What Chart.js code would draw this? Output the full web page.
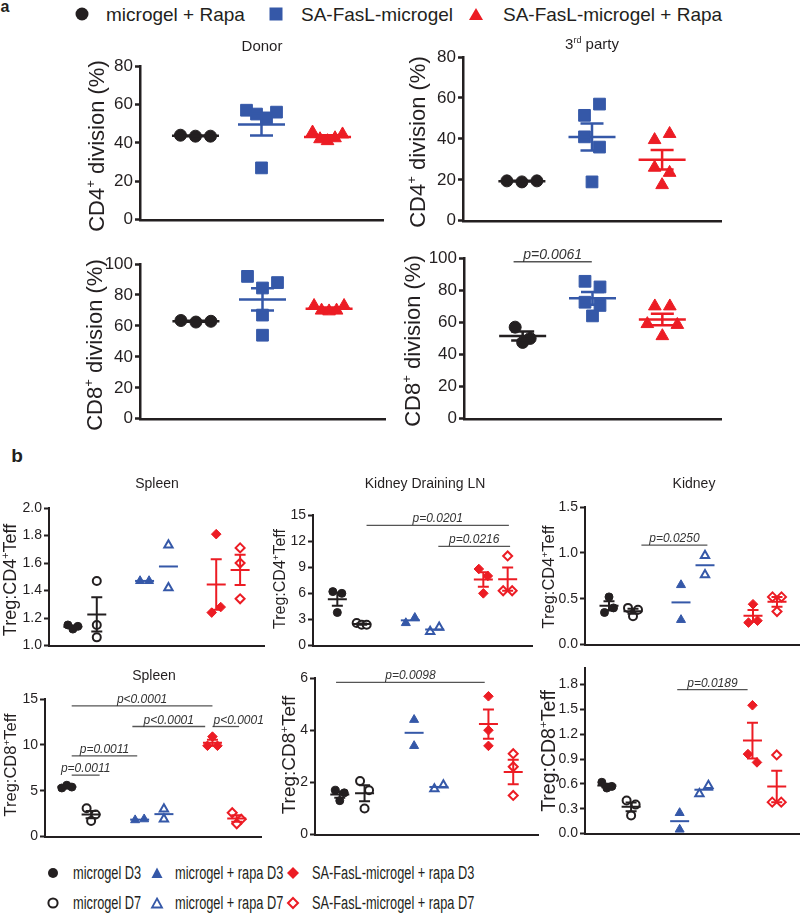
<!DOCTYPE html>
<html>
<head>
<meta charset="utf-8">
<script src="https://cdn.jsdelivr.net/npm/chart.js@4.4.0/dist/chart.umd.min.js"></script>
<style>
  body { margin: 0; background: #fff; }
  #fig { position: relative; width: 800px; height: 915px; overflow: hidden;
         font-family: "Liberation Sans", Arial, Helvetica, sans-serif; color: #231f20; }
  .t  { position: absolute; white-space: nowrap; line-height: 1; transform: translate(-50%, -50%); }
  .yt { position: absolute; white-space: nowrap; line-height: 1; transform: translate(-50%, -50%) rotate(-90deg); }
  .lt { position: absolute; white-space: nowrap; line-height: 1; transform: translateY(-50%); }
  .lb { position: absolute; white-space: nowrap; line-height: 1; font-size: 18px;
        transform: translateY(-50%) scaleX(0.71); transform-origin: 0 50%; }
  .mk { position: absolute; overflow: visible; }
  sup { font-size: 0.6em; vertical-align: 0; position: relative; top: -0.65em; line-height: 0; }
</style>
</head>
<body>
<div id="fig">
  <div class="t" style="left:5px;top:7px;font-size:16px;font-weight:bold">a</div>
  <div class="t" style="left:17px;top:455px;font-size:19px;font-weight:bold">b</div>

  <!-- legend a -->
  <svg class="mk" style="left:75px;top:7px" width="14" height="14"><circle cx="7" cy="7" r="6.5" fill="#231f20"/></svg>
  <div class="lt" style="left:106px;top:14px;font-size:19px">microgel + Rapa</div>
  <svg class="mk" style="left:269px;top:7px" width="14" height="14"><rect x="0.5" y="0.5" width="13" height="13" fill="#3558a8"/></svg>
  <div class="lt" style="left:301px;top:14px;font-size:19px">SA-FasL-microgel</div>
  <svg class="mk" style="left:469px;top:7px" width="14" height="14"><polygon points="7,1 14,13 0,13" fill="#ec1c24"/></svg>
  <div class="lt" style="left:503px;top:14px;font-size:19px">SA-FasL-microgel + Rapa</div>

  <div class="t" style="left:262px;top:45px;font-size:15px">Donor</div>
  <div class="t" style="left:592px;top:43px;font-size:15px">3<sup>rd</sup> party</div>

  <div class="yt" style="left:97px;top:146px;font-size:22px">CD4<sup>+</sup> division (%)</div>
  <div class="yt" style="left:418px;top:142px;font-size:22px">CD4<sup>+</sup> division (%)</div>
  <div class="yt" style="left:95px;top:345px;font-size:22px">CD8<sup>+</sup> division (%)</div>
  <div class="yt" style="left:413px;top:341px;font-size:22px">CD8<sup>+</sup> division (%)</div>

  <div class="t" style="left:157px;top:483px;font-size:14px">Spleen</div>
  <div class="t" style="left:425px;top:483px;font-size:14px">Kidney Draining LN</div>
  <div class="t" style="left:694px;top:483px;font-size:14px">Kidney</div>
  <div class="t" style="left:154px;top:675px;font-size:14px">Spleen</div>

  <div class="yt" style="left:10px;top:580px;font-size:18px">Treg:CD4<sup>+</sup>Teff</div>
  <div class="yt" style="left:280px;top:579px;font-size:16px">Treg:CD4<sup>+</sup>Teff</div>
  <div class="yt" style="left:548px;top:577px;font-size:16.5px">Treg:CD4<sup>+</sup>Teff</div>
  <div class="yt" style="left:10px;top:765px;font-size:16.5px">Treg:CD8<sup>+</sup>Teff</div>
  <div class="yt" style="left:288px;top:755px;font-size:19px">Treg:CD8<sup>+</sup>Teff</div>
  <div class="yt" style="left:549px;top:751px;font-size:19.5px">Treg:CD8<sup>+</sup>Teff</div>

  <!-- legend b -->
  <svg class="mk" style="left:47px;top:867px" width="12" height="12"><circle cx="6" cy="6" r="5" fill="#231f20"/></svg>
  <div class="lb" style="left:73px;top:873px">microgel D3</div>
  <svg class="mk" style="left:151px;top:867px" width="12" height="12"><polygon points="6,0.5 11.5,11 0.5,11" fill="#3558a8"/></svg>
  <div class="lb" style="left:175px;top:873px">microgel + rapa D3</div>
  <svg class="mk" style="left:287px;top:867px" width="12" height="12"><polygon points="6,0 12,6 6,12 0,6" fill="#ec1c24"/></svg>
  <div class="lb" style="left:312px;top:873px">SA-FasL-microgel + rapa D3</div>
  <svg class="mk" style="left:47px;top:897px" width="12" height="12"><circle cx="6" cy="6" r="4.6" fill="none" stroke="#231f20" stroke-width="2"/></svg>
  <div class="lb" style="left:73px;top:903px">microgel D7</div>
  <svg class="mk" style="left:151px;top:897px" width="12" height="12"><polygon points="6,1.5 11,10.5 1,10.5" fill="none" stroke="#3558a8" stroke-width="1.8"/></svg>
  <div class="lb" style="left:175px;top:903px">microgel + rapa D7</div>
  <svg class="mk" style="left:287px;top:897px" width="12" height="12"><polygon points="6,1 11,6 6,11 1,6" fill="none" stroke="#ec1c24" stroke-width="2"/></svg>
  <div class="lb" style="left:312px;top:903px">SA-FasL-microgel + rapa D7</div>
</div>

<script>
const INK = '#231f20', BLUE = '#3558a8', RED = '#ec1c24';
const FONT = '"Liberation Sans", Arial, Helvetica, sans-serif';

// ---- panel a: microgel + Rapa / SA-FasL-microgel / SA-FasL-microgel + Rapa
const groupPosA = [1, 2, 3];
const donorCD4Rapa = [44, 43.5, 43.5];
const donorCD4Fasl = [57, 55, 53, 56, 27];
const donorCD4FaslRapa = [45.5, 42, 41, 42.5, 44.5];
const thirdCD4Rapa = [19.5, 19, 19.5];
const thirdCD4Fasl = [51.5, 57, 41, 36, 19];
const thirdCD4FaslRapa = [39.5, 42.5, 26, 23.5, 17.5];
const donorCD8Rapa = [63.5, 62.5, 63];
const donorCD8Fasl = [92, 84.5, 88, 67, 54];
const donorCD8FaslRapa = [73, 70, 69.5, 70, 73];
const thirdCD8Rapa = [57, 50, 47.5];
const thirdCD8Fasl = [85.5, 82, 72.5, 70.5, 64];
const thirdCD8FaslRapa = [70, 70, 59, 51.5, 58.5];
const thirdCD8Pvals = [[0.87, 1.99, 97.6, 'p=0.0061']];

// ---- panel b: microgel D3 / D7, microgel + rapa D3 / D7, SA-FasL-microgel + rapa D3 / D7
const groupPosB = [1, 2, 4, 5, 7, 8];
const spleenCD4 = [[1.15, 1.12, 1.14], [1.47, 1.15, 1.06], [1.47, 1.47], [1.42, 1.73], [1.24, 1.28, 1.81], [1.34, 1.60, 1.71]];
const dlnCD4 = [[6.2, 6.0, 3.8], [2.6, 2.4, 2.4], [2.6, 3.2], [1.6, 2.1], [8.8, 8.0, 6.0], [10.3, 6.3, 6.3]];
const kidneyCD4 = [[0.52, 0.35, 0.40], [0.40, 0.31, 0.38], [0.65, 0.27], [0.97, 0.76], [0.44, 0.24, 0.26], [0.52, 0.52, 0.36]];
const spleenCD8 = [[5.3, 5.6, 5.4], [3.1, 2.4, 1.7], [1.8, 1.9], [1.9, 3.0], [9.9, 10.9, 9.9], [2.6, 1.9, 1.4]];
const dlnCD8 = [[1.7, 1.6, 1.3], [2.05, 1.7, 1.0], [4.4, 3.4], [1.75, 1.9], [5.3, 4.0, 3.4], [3.1, 2.6, 1.5]];
const kidneyCD8 = [[0.62, 0.55, 0.57], [0.40, 0.35, 0.22], [0.25, 0.05], [0.48, 0.58], [1.55, 0.96, 0.86], [0.95, 0.38, 0.38]];
const dlnCD4Pvals = [[2.2, 8.05, 13.8, 'p=0.0201'], [5.15, 8.1, 11.4, 'p=0.0216']];
const kidneyCD4Pvals = [[2.35, 5.1, 1.085, 'p=0.0250']];
const spleenCD8Pvals = [[1.2, 7, 14.25, 'p<0.0001'], [3.7, 6.7, 12, 'p<0.0001'], [7, 8.1, 12, 'p<0.0001', 'left'],
                        [1.2, 3.9, 8.8, 'p=0.0011'], [1.2, 2.35, 6.7, 'p=0.0011']];
const dlnCD8Pvals = [[0.85, 6.85, 5.83, 'p=0.0098']];
const kidneyCD8Pvals = [[3.9, 6.8, 1.74, 'p=0.0189']];

const styleA = [
  { shape: 'circle', color: INK, r: 6 },
  { shape: 'rect', color: BLUE, r: 8.3 },
  { shape: 'triangle', color: RED, r: 7.3 }
];
const styleB = [
  { shape: 'circle', color: INK, r: 4 },
  { shape: 'circle', color: INK, r: 4, open: true },
  { shape: 'triangle', color: BLUE, r: 5.2 },
  { shape: 'triangle', color: BLUE, r: 4.8, open: true },
  { shape: 'rectRot', color: RED, r: 4.8 },
  { shape: 'rectRot', color: RED, r: 4.5, open: true }
];

const fig = document.getElementById('fig');

// spread points sharing a row horizontally, centred on the group
function swarmPlugin(o) {
  return {
    id: 'swarm',
    afterDatasetsUpdate(chart) {
      const xs = chart.scales.x;
      chart.data.datasets.forEach((ds, di) => {
        const pts = chart.getDatasetMeta(di).data;
        const cx = xs.getPixelForValue(ds.data[0].x);
        const idx = pts.map((p, k) => k).sort((a, b) => pts[a].y - pts[b].y);
        const rows = [];
        idx.forEach(k => {
          const row = rows[rows.length - 1];
          if (row && pts[k].y - pts[row[0]].y <= o.near) row.push(k);
          else rows.push([k]);
        });
        rows.forEach(row => {
          row.sort((a, b) => a - b);
          const n = row.length;
          const step = n > 1 ? Math.min(o.step, o.maxW / (n - 1)) : 0;
          row.forEach((k, j) => { pts[k].x = cx + (j - (n - 1) / 2) * step; });
        });
      });
    }
  };
}

// mean line with SEM whiskers for each group (whiskers only when n >= 3)
function meanSemPlugin(o) {
  return {
    id: 'meanSem',
    afterDatasetsDraw(chart) {
      const { ctx, scales: { x, y } } = chart;
      ctx.save();
      ctx.lineWidth = o.lw;
      chart.data.datasets.forEach(ds => {
        const vals = ds.data.map(p => p.y);
        const n = vals.length;
        const m = vals.reduce((a, b) => a + b, 0) / n;
        const sd = Math.sqrt(vals.reduce((a, b) => a + (b - m) * (b - m), 0) / (n - 1));
        const se = sd / Math.sqrt(n);
        const cx = x.getPixelForValue(ds.data[0].x);
        const ym = y.getPixelForValue(m);
        ctx.strokeStyle = ds.borderColor;
        ctx.beginPath();
        ctx.moveTo(cx - o.half, ym); ctx.lineTo(cx + o.half, ym);
        if (n >= 3 && se > 1e-9) {
          const y1 = y.getPixelForValue(m + se), y2 = y.getPixelForValue(m - se);
          ctx.moveTo(cx, y1); ctx.lineTo(cx, y2);
          ctx.moveTo(cx - o.cap, y1); ctx.lineTo(cx + o.cap, y1);
          ctx.moveTo(cx - o.cap, y2); ctx.lineTo(cx + o.cap, y2);
        }
        ctx.stroke();
      });
      ctx.restore();
    }
  };
}

// significance lines with p-values
function pvalPlugin(list, o) {
  return {
    id: 'pvals',
    afterDraw(chart) {
      const { ctx, scales: { x, y } } = chart;
      ctx.save();
      list.forEach(([a, b, v, label, align]) => {
        const x1 = x.getPixelForValue(a), x2 = x.getPixelForValue(b), py = y.getPixelForValue(v);
        ctx.strokeStyle = '#555'; ctx.lineWidth = o.lw;
        ctx.beginPath(); ctx.moveTo(x1, py); ctx.lineTo(x2, py); ctx.stroke();
        ctx.fillStyle = '#333';
        ctx.font = 'italic ' + o.size + 'px ' + FONT;
        ctx.textBaseline = 'alphabetic';
        if (align === 'left') {
          ctx.textAlign = 'left';
          ctx.fillText(label, x1 + 1, py - 3);
        } else {
          ctx.textAlign = 'center';
          ctx.fillText(label, (x1 + x2) / 2, py - 3);
        }
      });
      ctx.restore();
    }
  };
}

function panel(o) {
  const padT = 14, padR = 10, xH = 6;
  const left = o.l - o.yW, top = o.t - padT;
  const w = Math.round(o.r + padR - left), h = Math.round(o.b + xH - top);
  const cv = document.createElement('canvas');
  cv.width = w; cv.height = h;
  cv.style.cssText = `position:absolute;left:${left}px;top:${top}px;width:${w}px;height:${h}px`;
  fig.insertBefore(cv, fig.firstChild);

  const datasets = o.groups.map((vals, i) => {
    const s = o.styles[i];
    return {
      data: vals.map(v => ({ x: o.pos[i], y: v })),
      pointStyle: s.shape,
      pointRadius: s.r,
      backgroundColor: s.open ? '#fff' : s.color,
      borderColor: s.color,
      borderWidth: s.open ? 2 : 1,
      clip: false
    };
  });

  const plugins = [swarmPlugin(o.swarm), meanSemPlugin(o.mean)];
  if (o.pvals) plugins.push(pvalPlugin(o.pvals, o.pStyle));

  new Chart(cv, {
    type: 'scatter',
    data: { datasets },
    options: {
      responsive: false,
      animation: false,
      events: [],
      layout: { padding: { top: padT, right: padR, left: 0, bottom: 0 } },
      plugins: { legend: { display: false }, tooltip: { enabled: false } },
      scales: {
        x: {
          type: 'linear', min: o.xMin, max: o.xMax,
          ticks: { display: false },
          grid: { display: false },
          border: { color: INK, width: o.axisLW },
          afterFit: s => { s.height = xH; }
        },
        y: {
          min: o.yMin, max: o.yMax,
          ticks: {
            stepSize: o.step, color: INK, padding: 2,
            font: { family: FONT, size: o.tickSize },
            callback: v => (o.dec ? v.toFixed(o.dec) : v)
          },
          grid: { drawOnChartArea: false, drawTicks: true, tickLength: 5, tickWidth: o.axisLW, tickColor: INK },
          border: { color: INK, width: o.axisLW },
          afterFit: s => { s.width = o.yW; },
          afterBuildTicks: s => {
            if (o.tickMax !== undefined) s.ticks = s.ticks.filter(t => t.value <= o.tickMax + 1e-9);
          }
        }
      }
    },
    plugins
  });
}

const baseA = {
  pos: groupPosA, styles: styleA, yW: 48, tickSize: 17, axisLW: 2.5, xMin: 0.16, xMax: 3.84,
  swarm: { near: 13, step: 15, maxW: 30 }, mean: { half: 23.5, cap: 11.5, lw: 2.5 },
  pStyle: { lw: 1.5, size: 14 }
};
const baseB = {
  pos: groupPosB, styles: styleB, yW: 40, tickSize: 14, axisLW: 2, xMin: 0, xMax: 9,
  swarm: { near: 10, step: 9, maxW: 10 }, mean: { half: 9.5, cap: 5.5, lw: 2 },
  pStyle: { lw: 1.3, size: 12 }
};

panel({ ...baseA, l: 140, r: 383, t: 66, b: 226, yMin: 0, yMax: 80, step: 20,
        groups: [donorCD4Rapa, donorCD4Fasl, donorCD4FaslRapa] });
panel({ ...baseA, l: 463, r: 721, t: 57, b: 227, yMin: 0, yMax: 80, step: 20,
        groups: [thirdCD4Rapa, thirdCD4Fasl, thirdCD4FaslRapa] });
panel({ ...baseA, l: 140, r: 385, t: 264, b: 425, yMin: 0, yMax: 100, step: 20,
        groups: [donorCD8Rapa, donorCD8Fasl, donorCD8FaslRapa] });
panel({ ...baseA, l: 464, r: 721, t: 258, b: 425, yMin: 0, yMax: 100, step: 20,
        groups: [thirdCD8Rapa, thirdCD8Fasl, thirdCD8FaslRapa], pvals: thirdCD8Pvals });

panel({ ...baseB, l: 48.5, r: 263, t: 508, b: 650, yMin: 1, yMax: 2, step: 0.2, dec: 1, groups: spleenCD4 });
panel({ ...baseB, l: 313, r: 532, t: 515, b: 650, yMin: 0, yMax: 15, step: 3, groups: dlnCD4, pvals: dlnCD4Pvals });
panel({ ...baseB, l: 585, r: 801, t: 507, b: 649, yMin: 0, yMax: 1.5, step: 0.5, dec: 1, groups: kidneyCD4, pvals: kidneyCD4Pvals });
panel({ ...baseB, l: 45, r: 261, t: 699, b: 841, xMin: 0.1, yMin: 0, yMax: 15, step: 5, groups: spleenCD8, pvals: spleenCD8Pvals });
panel({ ...baseB, l: 315, r: 538, t: 678, b: 839, yMin: 0, yMax: 6, step: 2, groups: dlnCD8, pvals: dlnCD8Pvals });
panel({ ...baseB, l: 585, r: 801, t: 668, b: 838, xMin: 0.1, yMin: 0, yMax: 2, step: 0.3, tickMax: 1.8, dec: 1,
        groups: kidneyCD8, pvals: kidneyCD8Pvals });
</script>
</body>
</html>
